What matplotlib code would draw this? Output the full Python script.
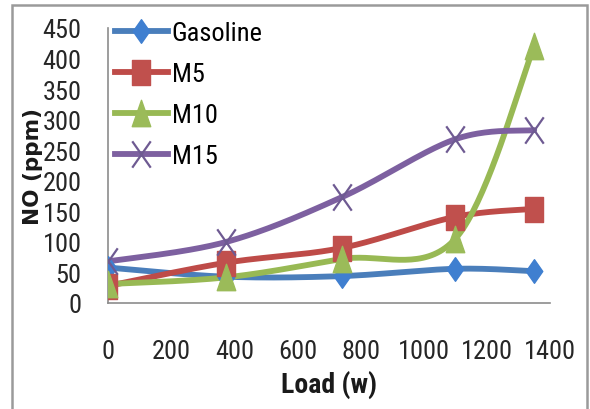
import numpy as np
import matplotlib
matplotlib.use("Agg")
import matplotlib.pyplot as plt
from matplotlib.patches import Rectangle
from matplotlib.path import Path

plt.rcParams['font.family'] = ['Roboto Condensed', 'DejaVu Sans']

# engine load (W) and NO emissions (ppm) for each fuel blend
load = [0, 375, 740, 1100, 1350]
gasoline = [58, 43, 44, 56, 52]
m5 = [28, 66, 90, 141, 154]
m10 = [31, 42, 72, 105, 420]
m15 = [68, 100, 173, 268, 283]

# tall markers, like the stretched Excel ones
w = 0.7
diamond = Path([(0, 1), (w, 0), (0, -1), (-w, 0), (0, 1)], closed=True)
square = Path([(-w, -1), (w, -1), (w, 1), (-w, 1), (-w, -1)], closed=True)
triangle = Path([(0, 1), (w, -1), (-w, -1), (0, 1)], closed=True)
cross = Path([(-w, -1), (w, 1), (-w, 1), (w, -1)],
             [Path.MOVETO, Path.LINETO, Path.MOVETO, Path.LINETO])

series = [
    ("Gasoline", gasoline, "#4A7EBB", "#3F7FD0", diamond, 17),
    ("M5", m5, "#BE4B48", "#C0504D", square, 18),
    ("M10", m10, "#98B954", "#9BBB59", triangle, 19),
    ("M15", m15, "#7D60A0", "#6E5A92", cross, 19),
]


def smooth(xs, ys, n=40):
    """Excel-style smoothed line: Catmull-Rom segments as cubic Beziers."""
    pts = np.column_stack([xs, ys]).astype(float)
    ext = np.vstack([pts[0], pts, pts[-1]])
    t = np.linspace(0, 1, n)[:, None]
    out = []
    for i in range(len(pts) - 1):
        p0, p1, p2, p3 = ext[i], ext[i + 1], ext[i + 2], ext[i + 3]
        c1 = p1 + (p2 - p0) / 6
        c2 = p2 - (p3 - p1) / 6
        seg = ((1 - t) ** 3 * p1 + 3 * (1 - t) ** 2 * t * c1
               + 3 * (1 - t) * t ** 2 * c2 + t ** 3 * p2)
        out.append(seg)
    curve = np.vstack(out)
    return curve[:, 0], curve[:, 1]


fig = plt.figure(figsize=(5.9, 4.1), dpi=100)
ax = fig.add_axes([108 / 590, 1 - 304 / 410, 442 / 590, 275 / 410])

for name, vals, lc, mc, mk, ms in series:
    is_cross = mk is cross
    style = dict(marker=mk, markersize=ms,
                 markerfacecolor='none' if is_cross else mc,
                 markeredgecolor=mc, markeredgewidth=1.6 if is_cross else 1)
    sx, sy = smooth(load, vals)
    ax.plot(sx, sy, color=lc, lw=4.2, solid_capstyle='round', zorder=2)
    ax.plot(load, vals, linestyle='none', zorder=3, **style)
    # legend proxy with line and marker together
    ax.plot([], [], color=lc, lw=4.2, label=name, **style)

ax.set_xlim(0, 1400)
ax.set_ylim(0, 450)
ax.set_xticks(range(0, 1401, 200))
ax.set_yticks(range(0, 451, 50))
ax.tick_params(length=0, labelsize=19, colors='#262626')
ax.tick_params(axis='y', pad=19)
ax.tick_params(axis='x', pad=26)
for s in ['top', 'right']:
    ax.spines[s].set_visible(False)
for s in ['left', 'bottom']:
    ax.spines[s].set_color('#8c8c8c')
    ax.spines[s].set_linewidth(1.2)

ax.set_xlabel("Load (w)", fontsize=20, fontweight='bold', labelpad=5,
              color='#1a1a1a')
ax.set_ylabel("NO (ppm)", fontsize=15.5, fontweight='bold', family='DejaVu Sans',
              color='#1a1a1a')
ax.yaxis.set_label_coords(-65 / 442, 0.5)

ax.legend(loc='upper left', bbox_to_anchor=(7 / 442, 1.026), frameon=False,
          fontsize=19, numpoints=1, handlelength=2.0, handletextpad=0.15,
          labelspacing=0.65, borderpad=0, borderaxespad=0)

fig.patches.append(Rectangle((12 / 590, -5 / 410), 575 / 590, 409 / 410,
                             transform=fig.transFigure, fill=False,
                             edgecolor='#9a9a9a', lw=1.8))

fig.savefig("out.png", dpi=100)
